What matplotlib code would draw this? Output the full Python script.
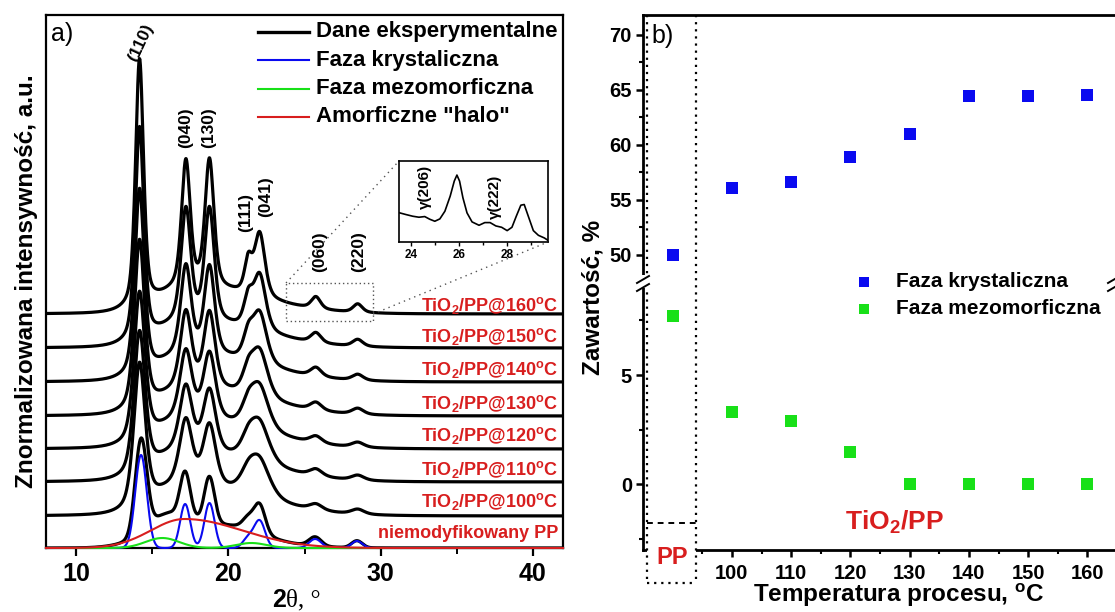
import numpy as np
import matplotlib
matplotlib.use('Agg')
import matplotlib.pyplot as plt
from matplotlib.lines import Line2D
from matplotlib.patches import Rectangle
from matplotlib.ticker import MultipleLocator, FixedLocator

plt.rcParams['font.family'] = ['Liberation Sans', 'DejaVu Sans']
plt.rcParams['font.weight'] = 'bold'
plt.rcParams['axes.labelweight'] = 'bold'
plt.rcParams['mathtext.default'] = 'regular'

# ---------------- panel a: XRD patterns ----------------
sample_labels = ['niemodyfikowany PP',
                 'TiO$_2$/PP@100$^o$C', 'TiO$_2$/PP@110$^o$C', 'TiO$_2$/PP@120$^o$C',
                 'TiO$_2$/PP@130$^o$C', 'TiO$_2$/PP@140$^o$C', 'TiO$_2$/PP@150$^o$C',
                 'TiO$_2$/PP@160$^o$C']
sample_offsets = [0, 32, 66, 99, 132, 166, 200, 234]

peak_labels = ['(110)', '(040)', '(130)', '(111)', '(041)', '(060)', '(220)']
peak_pos = [14.15, 17.2, 18.75, 21.3, 22.05, 25.75, 28.5]

# crystalline peak heights of the TiO2/PP samples (100 ... 160 degC), one list per reflection
h_110 = [144, 142, 149, 169, 186, 214, 248]
h_040 = [65, 65, 68, 76, 88, 112, 126]
h_130 = [62, 63, 67, 76, 88, 113, 128]
h_111 = [15, 16, 18, 21, 24, 28, 32]
h_041 = [35, 39, 43, 47, 51, 56, 64]
h_060 = [6, 7, 7, 8, 9, 10, 12]
h_220 = [5, 5, 5, 6, 6, 7, 8.5]

# peak widths (FWHM, deg), one list per reflection
w_110 = [0.90, 0.88, 0.86, 0.80, 0.74, 0.68, 0.62]
w_040 = [1.00, 0.98, 0.95, 0.88, 0.82, 0.76, 0.68]
w_130 = [1.00, 0.98, 0.95, 0.88, 0.82, 0.76, 0.70]
w_111 = [1.20, 1.10, 1.00, 0.90, 0.80, 0.70, 0.58]
w_041 = [1.60, 1.50, 1.40, 1.25, 1.10, 0.95, 0.82]
w_060 = [1.00, 0.98, 0.95, 0.90, 0.85, 0.80, 0.72]
w_220 = [1.00, 0.98, 0.95, 0.90, 0.85, 0.80, 0.72]

halo_height = [27, 27, 27, 26, 26, 25, 25]
meso_height = [4.3, 3.8, 2.0, 0, 0, 0, 0]
halo_center = 17.5
halo_sigma_left = 2.0
halo_sigma_right = 4.5

# deconvolution of unmodified PP
pp_cryst_pos = [14.25, 17.15, 18.75, 21.3, 22.05, 25.7, 28.45]
pp_cryst_h = [93, 44, 45, 10, 27, 9, 7]
pp_cryst_sigma = [0.38, 0.33, 0.33, 0.35, 0.36, 0.40, 0.35]
pp_meso_pos = [15.65, 21.5]
pp_meso_h = [10, 5]
pp_meso_sigma = [1.1, 1.0]
pp_halo = dict(c=17.1, h=29, sl=2.2, sr=3.8)

# inset: zoom of the 160 degC pattern
inset_2theta = [23.53, 23.79, 24.07, 24.33, 24.57, 24.78, 24.99, 25.20, 25.41, 25.63,
                25.80, 25.91, 26.02, 26.16, 26.33, 26.54, 26.83, 27.07, 27.29, 27.53,
                27.77, 28.00, 28.20, 28.38, 28.57, 28.71, 28.88, 29.09, 29.30, 29.55, 29.72]
inset_int = [87, 82, 77, 74, 76, 68, 62, 69, 92, 137,
             182, 200, 182, 132, 87, 60, 50, 58, 58, 48,
             44, 34, 44, 77, 110, 112, 77, 34, 20, 12, 4]

# ---------------- panel b: phase content ----------------
pp_position = 90
process_temps = [100, 110, 120, 130, 140, 150, 160]
cryst_content = [50.0, 56.1, 56.6, 58.9, 61.0, 64.4, 64.4, 64.5]
meso_content = [7.7, 3.3, 2.9, 1.5, 0.0, 0.0, 0.0, 0.0]

BLUE = '#0a0af0'
GREEN = '#18e018'
RED = '#d81e1e'

W, H = 1115, 612
fig = plt.figure(figsize=(W / 100, H / 100), dpi=100)


def box(x0, y0, x1, y1):
    return fig.add_axes([x0 / W, 1 - y1 / H, (x1 - x0) / W, (y1 - y0) / H])


def ftext(x, y, s, **kw):
    return fig.text(x / W, 1 - y / H, s, **kw)


def fline(xs, ys, **kw):
    fig.add_artist(Line2D([v / W for v in xs], [1 - v / H for v in ys],
                          transform=fig.transFigure, **kw))


def gauss(x, c, h, s):
    return h * np.exp(-0.5 * ((x - c) / s) ** 2)


def asym_gauss(x, c, h, sl, sr):
    s = np.where(x < c, sl, sr)
    return h * np.exp(-0.5 * ((x - c) / s) ** 2)


def pvoigt(x, c, h, fwhm, eta=0.5):
    u = (x - c) / fwhm
    return h * (eta / (1 + 4 * u ** 2) + (1 - eta) * np.exp(-4 * np.log(2) * u ** 2))


# ---- panel a ----
ax = box(46, 15, 563, 548)
ax.set_xlim(8, 42)
ax.set_ylim(0, 533)
x = np.linspace(8, 42, 2400)

blue = sum(gauss(x, c, h, s) for c, h, s in zip(pp_cryst_pos, pp_cryst_h, pp_cryst_sigma))
green = sum(gauss(x, c, h, s) for c, h, s in zip(pp_meso_pos, pp_meso_h, pp_meso_sigma))
red = asym_gauss(x, pp_halo['c'], pp_halo['h'], pp_halo['sl'], pp_halo['sr'])

curves = [blue + green + red]
heights = list(zip(h_110, h_040, h_130, h_111, h_041, h_060, h_220))
widths = list(zip(w_110, w_040, w_130, w_111, w_041, w_060, w_220))
for k in range(7):
    y = asym_gauss(x, halo_center, halo_height[k], halo_sigma_left, halo_sigma_right)
    y = y + sum(gauss(x, c, meso_height[k] * h / pp_meso_h[0], s)
                for c, h, s in zip(pp_meso_pos, pp_meso_h, pp_meso_sigma))
    for c, h, w in zip(peak_pos, heights[k], widths[k]):
        y = y + pvoigt(x, c, h, w)
    curves.append(y)

for off, y in zip(sample_offsets, curves):
    ax.plot(x, y + off, color='black', lw=2.3, zorder=3, solid_capstyle='round')

for comp, col in [(blue, BLUE), (green, GREEN), (red, RED)]:
    ax.plot(x, comp, color=col, lw=1.5, zorder=4, clip_on=False)

for sp in ax.spines.values():
    sp.set_linewidth(1.6)
ax.set_yticks([])
ax.xaxis.set_major_locator(MultipleLocator(10))
ax.xaxis.set_minor_locator(MultipleLocator(5))
ax.tick_params(axis='x', which='major', direction='out', length=6, width=1.6,
               labelsize=18, pad=4)
ax.tick_params(axis='x', which='minor', direction='out', length=4, width=1.4)

# sample names
label_y = [533, 502, 469, 436, 403, 370, 336, 305]
for s, yy in zip(sample_labels, label_y):
    ftext(558, yy, s, color=RED, fontsize=13, ha='right', va='center')

# reflection labels
ftext(141, 43, peak_labels[0], rotation=65, fontsize=12.5, ha='center', va='center')
ftext(186, 128, peak_labels[1], rotation=90, fontsize=12.5, ha='center', va='center')
ftext(209, 128, peak_labels[2], rotation=90, fontsize=12.5, ha='center', va='center')
ftext(246, 213, peak_labels[3], rotation=90, fontsize=12.5, ha='center', va='center')
ftext(266, 197, peak_labels[4], rotation=90, fontsize=12.5, ha='center', va='center')
ftext(320, 252, peak_labels[5], rotation=90, fontsize=12.5, ha='center', va='center')
ftext(359, 252, peak_labels[6], rotation=90, fontsize=12.5, ha='center', va='center')

# legend
legend_items = [('Dane eksperymentalne', 'black', 2.4), ('Faza krystaliczna', BLUE, 1.5),
                ('Faza mezomorficzna', GREEN, 1.5), ('Amorficzne "halo"', RED, 1.5)]
for i, (name, col, lw) in enumerate(legend_items):
    yy = 32 + 28.3 * i
    fline([258, 309], [yy, yy], color=col, lw=lw)
    ftext(316, yy, name, fontsize=16, va='center')

ftext(51, 34, 'a)', fontsize=18, fontweight='normal', va='center')
ax.set_ylabel('Znormalizowana intensywność, a.u.', fontsize=17.5, labelpad=6)
ftext(286, 600, '2', fontsize=18, ha='right', va='center')
ftext(286, 600, 'θ, °', fontsize=18, family='Liberation Serif', fontweight='normal',
      ha='left', va='center')

# zoom box and connectors
fig.add_artist(Rectangle((286 / W, 1 - 321 / H), 87 / W, 38 / H, transform=fig.transFigure,
                         fill=False, ls=(0, (1, 2)), lw=1.0, ec='#555555'))
fline([286, 399], [283, 161], color='#555555', lw=1.0, ls=(0, (1, 3)))
fline([373, 548], [314, 242], color='#555555', lw=1.0, ls=(0, (1, 3)))

axi = box(399, 161, 548, 242)
axi.set_xlim(23.5, 29.7)
axi.set_ylim(0, 242)
axi.plot(inset_2theta, inset_int, color='black', lw=1.2)
axi.set_yticks([])
axi.xaxis.set_major_locator(FixedLocator([24, 26, 28]))
axi.xaxis.set_minor_locator(FixedLocator([25, 27, 29]))
axi.tick_params(axis='x', which='major', direction='out', length=3, width=1, labelsize=8.5, pad=2)
axi.tick_params(axis='x', which='minor', direction='out', length=2, width=1)
for sp in axi.spines.values():
    sp.set_linewidth(1.2)
ftext(425, 187, 'γ(206)', rotation=90, fontsize=11, ha='center', va='center')
ftext(495, 197, 'γ(222)', rotation=90, fontsize=11, ha='center', va='center')

# ---- panel b ----
XL = (85, 165)
axt = box(643, 15, 1117, 281)
axb = box(643, 281, 1117, 550)
axt.set_xlim(*XL)
axb.set_xlim(*XL)
axt.set_ylim(47.6, 71.8)
axb.set_ylim(-3, 9.3)

xb = [pp_position] + process_temps
for a in (axt, axb):
    a.plot(xb, cryst_content, ls='none', marker='s', ms=9, mew=0, color=BLUE, zorder=5)
    a.plot(xb, meso_content, ls='none', marker='s', ms=9, mew=0, color=GREEN, zorder=5)
    a.spines['right'].set_visible(False)
    for sp in a.spines.values():
        sp.set_linewidth(2.0)

axt.spines['bottom'].set_visible(False)
axb.spines['top'].set_visible(False)
axt.set_xticks([])
axt.yaxis.set_major_locator(MultipleLocator(5))
axt.yaxis.set_minor_locator(MultipleLocator(2.5))
axb.yaxis.set_major_locator(MultipleLocator(5))
axb.yaxis.set_minor_locator(MultipleLocator(2.5))
axb.xaxis.set_major_locator(FixedLocator(process_temps))
axb.xaxis.set_minor_locator(FixedLocator([95, 105, 115, 125, 135, 145, 155, 165]))
for a in (axt, axb):
    a.tick_params(which='major', direction='out', length=5, width=1.8, labelsize=14.5, pad=3)
    a.tick_params(which='minor', direction='out', length=3, width=1.5)
    a.tick_params(axis='x', pad=5)

ftext(593, 297, 'Zawartość, %', rotation=90, fontsize=17.5, ha='center', va='center')
ftext(899, 595, 'Temperatura procesu, $^o$C', fontsize=17.5, ha='center', va='center')
ftext(651, 36, 'b)', fontsize=18, fontweight='normal', va='center')
ftext(894, 522, 'TiO$_2$/PP', color=RED, fontsize=19, ha='center', va='center')

# PP region box
fig.add_artist(Rectangle((647 / W, 1 - 583 / H), 49 / W, 60 / H, transform=fig.transFigure,
                         fc='white', ec='none', zorder=6))
ftext(672, 558, 'PP', color=RED, fontsize=17, ha='center', va='center', zorder=7)
fline([647, 647], [15, 583], color='black', lw=1.6, ls=(0, (1, 2.2)), zorder=7)
fline([696, 696], [15, 583], color='black', lw=1.6, ls=(0, (1, 2.2)), zorder=7)
fline([647, 696], [583, 583], color='black', lw=1.6, ls=(0, (1, 2.2)), zorder=7)
fline([647, 696], [523, 523], color='black', lw=1.4, ls=(0, (3, 2.5)), zorder=7)

# axis-break marks
for xc in (643, 1114):
    fig.add_artist(Rectangle(((xc - 6) / W, 1 - 288 / H), 12 / W, 13 / H,
                             transform=fig.transFigure, fc='white', ec='none', zorder=8))
    fline([xc - 6, xc + 6], [283, 276], color='black', lw=1.4, zorder=9)
    fline([xc - 6, xc + 6], [291, 284], color='black', lw=1.4, zorder=9)

# legend of panel b
for yy, col, name in [(282, BLUE, 'Faza krystaliczna'), (309, GREEN, 'Faza mezomorficzna')]:
    fig.add_artist(Line2D([864 / W], [1 - yy / H], marker='s', ms=6.5, mew=0, color=col,
                          transform=fig.transFigure))
    ftext(896, yy, name, fontsize=15, va='center')

fig.savefig('out.png', dpi=100)
